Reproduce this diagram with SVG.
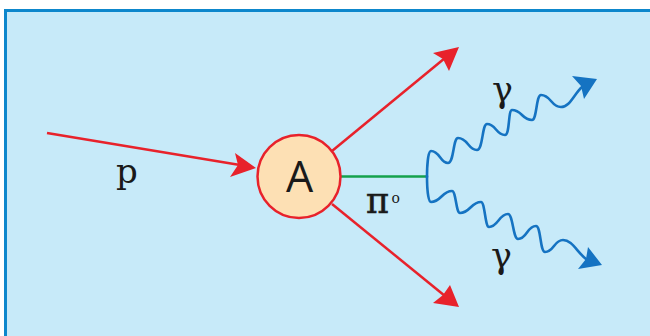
<svg xmlns="http://www.w3.org/2000/svg" width="650" height="336" viewBox="0 0 650 336">
<style>
.red{stroke:#e8222b;stroke-width:2.5;fill:none}
.redh{fill:#e8222b}
.wave{stroke:#1573c2;stroke-width:2.6;fill:none;stroke-linecap:round}
.waveh{fill:#1573c2}
</style>
<rect x="5.5" y="10.5" width="660" height="340" fill="#c7eaf9" stroke="#0d87cc" stroke-width="3"/>
<g id="connectors">
  <path class="red" d="M47,133 L240,165"/>
  <path class="redh" d="M256,168 L235,153 L238,165 L230,177 Z"/>
  <path class="red" d="M332,151 L445,58"/>
  <path class="redh" d="M459,47 L433,53 L443,59 L449,71 Z"/>
  <path class="red" d="M332,204 L445,296"/>
  <path class="redh" d="M459,307 L450,285 L443,295 L433,303 Z"/>
  <path d="M340,176.5 L426,176.5" stroke="#14a14c" stroke-width="2.5" fill="none"/>
  <path class="wave" d="M427,177 C427,166 428,151 431,151 C440,151 440,163 448,163 C454,163 453,138 458,138 C468,138 468,150 477,150 C483,150 482,124 487,124 C496,124 496,135 505,135 C510,135 508,110 512,110 C522,110 522,120 532,120 C537,120 536,95 541,95 C551,95 551,107 561,107 C570,107 574,94 582,87"/>
  <path class="waveh" d="M597,79 L572,76 L581,86 L584,99 Z"/>
  <path class="wave" d="M427,176 C427,188 428,202 431,202 C441,202 442,191 452,191 C456,191 456,213 460,213 C470,213 471,202 481,202 C485,202 485,227 489,227 C498,227 499,214 508,214 C513,214 513,239 518,239 C527,239 527,226 536,226 C541,226 540,252 545,252 C554,252 554,240 563,240 C572,240 577,252 586,259"/>
  <path class="waveh" d="M602,265 L588,247 L586,259 L578,269 Z"/>
</g>
<g id="nodeA">
  <circle cx="299" cy="176.5" r="41.5" fill="#fde0b4" stroke="#e8222b" stroke-width="2.5"/>
  <text x="299.5" y="192" text-anchor="middle" font-family="Open Sans, Liberation Sans, sans-serif" font-size="43" fill="#1a1a1a">A</text>
</g>
<g id="label-p"><text x="116" y="183" font-family="DejaVu Serif, serif" font-size="34" fill="#1a1a1a">p</text></g>
<g id="label-pi"><text x="366" y="213" font-family="DejaVu Serif, serif" font-size="35" fill="#1a1a1a" stroke="#1a1a1a" stroke-width="0.6">π</text><text x="391.5" y="203" font-family="DejaVu Serif, serif" font-size="14" fill="#1a1a1a">o</text></g>
<g id="label-gamma1"><text x="492" y="102" font-family="DejaVu Serif, serif" font-size="35" fill="#1a1a1a">γ</text></g>
<g id="label-gamma2"><text x="491" y="268" font-family="DejaVu Serif, serif" font-size="35" fill="#1a1a1a">γ</text></g>
</svg>
